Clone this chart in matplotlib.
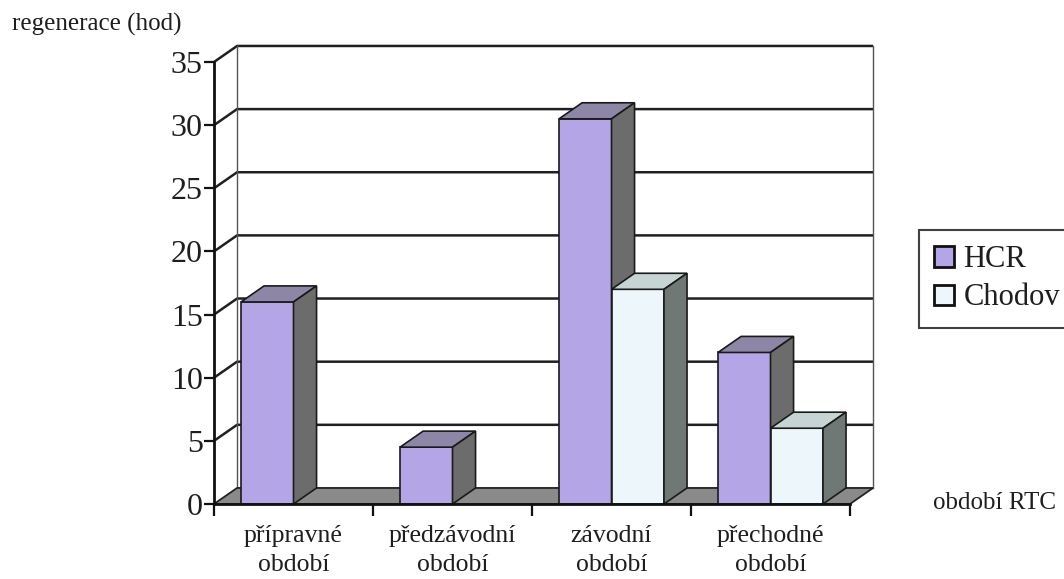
import matplotlib.pyplot as plt
from matplotlib.patches import Polygon, Patch
import numpy as np

plt.rcParams['font.family'] = ['Liberation Serif', 'DejaVu Serif']

categories = ["přípravné\nobdobí", "předzávodní\nobdobí", "závodní\nobdobí", "přechodné\nobdobí"]
hcr = [16, 4.5, 30.5, 12]
chodov = [0, 0, 17, 6]
series_names = ["HCR", "Chodov"]

# 3d look: depth offset in data units
DX = 0.145
DY = 1.27
W = 0.33

fig = plt.figure(figsize=(10.64, 5.79), dpi=100)
ax = fig.add_axes([214 / 1064, 75 / 579, 636 / 1064, 442 / 579])
ax.set_xlim(0, 4)
ax.set_ylim(0, 35)
ax.patch.set_visible(False)

txt = "#1e1e1e"
grid_c = "#202020"

# back wall + left wall gridlines
for v in range(5, 36, 5):
    ax.plot([0, DX, 4 + DX], [v, v + DY, v + DY], color=grid_c, lw=1.8,
            clip_on=False, zorder=1, solid_capstyle="butt")
ax.plot([DX, DX], [DY, 35 + DY], color="#555555", lw=1.0, clip_on=False, zorder=1)
ax.plot([4 + DX, 4 + DX], [DY, 35 + DY], color="#555555", lw=1.0, clip_on=False, zorder=1)

# floor
floor = Polygon([(0, 0), (4, 0), (4 + DX, DY), (DX, DY)], closed=True,
                facecolor="#8a8a8a", edgecolor="#222222", lw=1.3, clip_on=False, zorder=2)
ax.add_patch(floor)


def bar3d(x, v, front, top, side):
    if v <= 0:
        return
    ax.bar(x, v, width=W, align="edge", color=front, edgecolor="#1a1a1a",
           lw=1.2, zorder=4, clip_on=False)
    ax.add_patch(Polygon([(x, v), (x + W, v), (x + W + DX, v + DY), (x + DX, v + DY)],
                         closed=True, facecolor=top, edgecolor="#1a1a1a", lw=1.2,
                         zorder=4, clip_on=False))
    ax.add_patch(Polygon([(x + W, 0), (x + W, v), (x + W + DX, v + DY), (x + W + DX, DY)],
                         closed=True, facecolor=side, edgecolor="#1a1a1a", lw=1.2,
                         zorder=4, clip_on=False))


centers = np.arange(len(categories)) + 0.5
for c, a, b in zip(centers, hcr, chodov):
    bar3d(c - W, a, "#b4a6e6", "#8e86a6", "#6c6c6c")
    bar3d(c, b, "#ecf6fb", "#c6d4d4", "#707876")

# axes styling
for s in ["top", "right"]:
    ax.spines[s].set_visible(False)
for s in ["left", "bottom"]:
    ax.spines[s].set_linewidth(2)
    ax.spines[s].set_color("#111111")
    ax.spines[s].set_zorder(5)

ax.set_yticks(range(0, 36, 5))
ax.tick_params(axis="y", direction="out", length=7, width=1.6, pad=1,
               labelsize=23, labelcolor=txt, color="#111111")
ax.set_xticks(range(0, 5))
ax.set_xticklabels([])
ax.tick_params(axis="x", which="major", direction="out", length=8.5, width=1.6, color="#111111")
ax.set_xticks(centers, minor=True)
ax.set_xticklabels(categories, minor=True)
ax.tick_params(axis="x", which="minor", length=0, pad=15, labelsize=18.5, labelcolor=txt)
for t in ax.get_xticklabels(minor=True):
    t.set_linespacing(1.45)

fig.text(12 / 1064, 1 - 24 / 579, "regenerace (hod)", fontsize=18, color=txt, va="center")
fig.text(933 / 1064, 1 - 503 / 579, "období RTC", fontsize=18, color=txt, va="center")

handles = [Patch(facecolor="#b4a6e6", edgecolor="#111111", lw=2),
           Patch(facecolor="#ecf6fb", edgecolor="#111111", lw=2)]
leg = fig.legend(handles, series_names, loc="upper left",
                 bbox_to_anchor=(919 / 1064, 1 - 230 / 579), fontsize=22,
                 frameon=True, fancybox=False, edgecolor="#111111",
                 handlelength=0.65, handleheight=0.65, handletextpad=0.3,
                 borderpad=0.5, labelspacing=0.3, borderaxespad=0)
leg.get_frame().set_linewidth(1.5)
for t in leg.get_texts():
    t.set_color(txt)

fig.savefig("out.png", dpi=100)
